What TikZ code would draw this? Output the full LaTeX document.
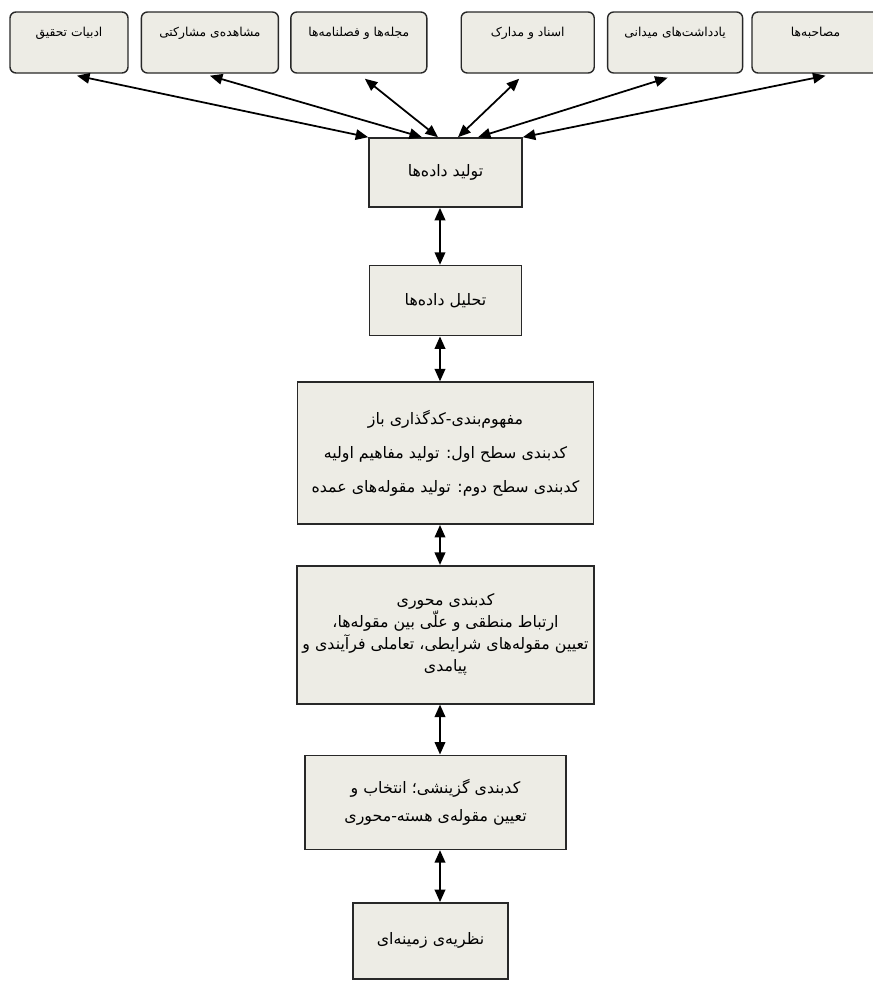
\documentclass[tikz,border=0pt]{standalone}
\usepackage{fontspec}
\usepackage{xcolor}
\usepackage{tikz}
\usetikzlibrary{arrows.meta,positioning}
\newfontfamily\arabicfont[Script=Arabic]{DejaVu Sans}
\TeXXeTstate=1
\definecolor{boxfill}{RGB}{237,236,229}
\definecolor{boxline}{RGB}{40,40,40}
\newcommand{\fa}[1]{{\arabicfont\beginR #1\endR}}

\begin{document}
\begin{tikzpicture}[
    node distance=0.8cm,
    source/.style={rectangle, rounded corners=0.12cm, draw=boxline, line width=0.8pt, fill=boxfill, inner sep=0pt, minimum height=1.22cm, text height=0.48cm, text depth=0.74cm, font=\fontsize{7}{9}\selectfont},
    stage/.style={rectangle, draw=boxline, line width=0.9pt, fill=boxfill, inner sep=0pt, align=center, font=\fontsize{9}{11}\selectfont},
    arrow/.style={{Triangle[length=2.5mm,width=2.1mm]}-{Triangle[length=2.5mm,width=2.1mm]}, line width=1pt},
    spinearrow/.style={arrow, line width=1.2pt}
]
\useasboundingbox (0,0) rectangle (17.46,-19.62);

% Sources
\node[source, minimum width=2.36cm] (lit_src) at (1.38,-0.85) {\fa{ادبیات تحقیق}};
\node[source, minimum width=2.74cm, right=0.24cm of lit_src] (obs_src) {\fa{مشاهده‌ی مشارکتی}};
\node[source, minimum width=2.72cm, right=0.22cm of obs_src] (jour_src) {\fa{مجله‌ها و فصلنامه‌ها}};
\node[source, minimum width=2.66cm, right=0.66cm of jour_src] (doc_src) {\fa{اسناد و مدارک}};
\node[source, minimum width=2.70cm, right=0.24cm of doc_src] (note_src) {\fa{یادداشت‌های میدانی}};
\node[source, minimum width=2.54cm, right=0.16cm of note_src] (int_src) {\fa{مصاحبه‌ها}};

% Pipeline
\node[stage, minimum width=3.06cm, minimum height=1.38cm] (gen) at (8.91,-3.45) {\fa{تولید داده‌ها}};
\node[stage, minimum width=3.04cm, minimum height=1.40cm, below=1.14cm of gen] (ana) {\fa{تحلیل داده‌ها}};
\node[stage, minimum width=5.92cm, minimum height=2.84cm, below=0.90cm of ana, font=\fontsize{9}{19.3}\selectfont] (open_cod)
    {\fa{مفهوم‌بندی-کدگذاری باز}\\\fa{کدبندی سطح اول: تولید مفاهیم اولیه}\\\fa{کدبندی سطح دوم: تولید مقوله‌های عمده}};
\node[stage, minimum width=5.94cm, minimum height=2.76cm, below=0.80cm of open_cod, font=\fontsize{9}{12.5}\selectfont] (axial_cod)
    {\fa{کدبندی محوری}\\\fa{ارتباط منطقی و علّی بین مقوله‌ها،}\\\fa{تعیین مقوله‌های شرایطی، تعاملی فرآیندی و}\\\fa{پیامدی}};
\node[stage, minimum width=5.22cm, minimum height=1.88cm, below=1.00cm of axial_cod, xshift=-0.2cm, font=\fontsize{9}{15.9}\selectfont] (sel_cod)
    {\fa{کدبندی گزینشی؛ انتخاب و}\\\fa{تعیین مقوله‌ی هسته-محوری}};
\node[stage, minimum width=3.10cm, minimum height=1.52cm, below=1.04cm of sel_cod, xshift=-0.1cm] (theory) {\fa{نظریه‌ی زمینه‌ای}};

\coordinate (spine) at (8.8,0);

% Arrows
\draw[arrow] ([xshift=0.16cm,yshift=-0.04cm]lit_src.south) -- (gen.north west);
\draw[arrow] ([yshift=-0.04cm]obs_src.south) -- ([xshift=-0.47cm]gen.north);
\draw[arrow] ([xshift=0.12cm,yshift=-0.1cm]jour_src.south) -- ([xshift=-0.15cm]gen.north);
\draw[arrow] ([xshift=-0.17cm,yshift=-0.1cm]doc_src.south) -- ([xshift=0.25cm]gen.north);
\draw[arrow] ([xshift=-0.15cm,yshift=-0.08cm]note_src.south) -- ([xshift=0.65cm]gen.north);
\draw[arrow] ([xshift=0.2cm,yshift=-0.04cm]int_src.south) -- (gen.north east);
\draw[spinearrow] (gen.south -| spine) -- (ana.north -| spine);
\draw[spinearrow] (ana.south -| spine) -- (open_cod.north -| spine);
\draw[spinearrow] (open_cod.south -| spine) -- (axial_cod.north -| spine);
\draw[spinearrow] (axial_cod.south -| spine) -- (sel_cod.north -| spine);
\draw[spinearrow] (sel_cod.south -| spine) -- (theory.north -| spine);
\end{tikzpicture}
\end{document}
